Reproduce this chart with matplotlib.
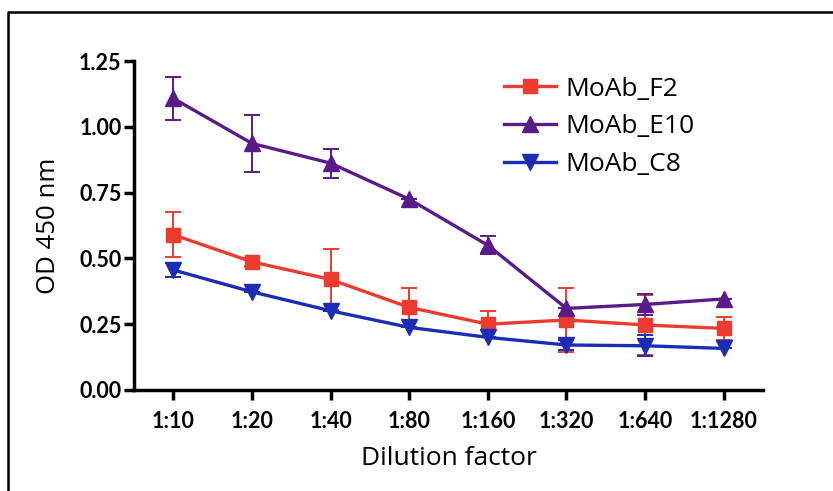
import matplotlib.pyplot as plt
from matplotlib.lines import Line2D

dilutions = ['1:10', '1:20', '1:40', '1:80', '1:160', '1:320', '1:640', '1:1280']

f2 = [0.59, 0.487, 0.42, 0.314, 0.25, 0.266, 0.247, 0.234]
f2_err = [0.085, 0.015, 0.115, 0.075, 0.05, 0.12, 0.115, 0.045]

e10 = [1.108, 0.937, 0.862, 0.725, 0.55, 0.31, 0.325, 0.346]
e10_err = [0.083, 0.107, 0.055, 0.0, 0.035, 0.0, 0.04, 0.0]

c8 = [0.456, 0.373, 0.301, 0.238, 0.2, 0.171, 0.168, 0.158]
c8_err = [0.025, 0.0, 0.0, 0.0, 0.0, 0.02, 0.04, 0.0]

red = '#ee3b30'
purple = '#5a1a8a'
blue = '#1c2cb4'

plt.rcParams['font.family'] = ['Lato', 'DejaVu Sans']

fig = plt.figure(figsize=(8.33, 4.91), dpi=100)
ax = fig.add_axes([134/833, 1-390/491, (763-134)/833, (390-61)/491])

x = list(range(len(dilutions)))

ax.errorbar(x, f2, yerr=f2_err, color=red, marker='s', markersize=10, lw=2.4,
            capsize=6, elinewidth=1.4, capthick=1.4, label='MoAb_F2', zorder=3)
ax.errorbar(x, e10, yerr=e10_err, color=purple, marker='^', markersize=11, lw=2.4,
            capsize=6, elinewidth=1.4, capthick=1.4, label='MoAb_E10', zorder=3)
ax.errorbar(x, c8, yerr=c8_err, color=blue, marker='v', markersize=11, lw=2.4,
            capsize=6, elinewidth=1.4, capthick=1.4, label='MoAb_C8', zorder=3)

ax.set_xlim(-0.5, 7.5)
ax.set_ylim(0, 1.25)
ax.set_xticks(x)
ax.set_xticklabels(dilutions, fontsize=15.5, fontweight='bold')
ax.set_yticks([0, 0.25, 0.5, 0.75, 1.0, 1.25])
ax.set_yticklabels(['0.00', '0.25', '0.50', '0.75', '1.00', '1.25'],
                   fontsize=15.5, fontweight='bold')
ax.tick_params(axis='both', width=2.5, length=7, pad=2)
ax.tick_params(axis='x', pad=8)

for side in ['top', 'right']:
    ax.spines[side].set_visible(False)
for side in ['left', 'bottom']:
    ax.spines[side].set_linewidth(2.5)

ax.set_ylabel('OD 450 nm', fontsize=18.5, family=['Open Sans', 'DejaVu Sans'], labelpad=13)
ax.set_xlabel('Dilution factor', fontsize=19, family=['Open Sans', 'DejaVu Sans'], labelpad=10)

handles = [Line2D([], [], color=red, marker='s', markersize=10, lw=2.4),
           Line2D([], [], color=purple, marker='^', markersize=11, lw=2.4),
           Line2D([], [], color=blue, marker='v', markersize=11, lw=2.4)]
ax.legend(handles, ['MoAb_F2', 'MoAb_E10', 'MoAb_C8'], frameon=False,
          loc='upper left', bbox_to_anchor=(0.55, 1.025),
          prop={'family': ['Open Sans', 'DejaVu Sans'], 'size': 19},
          handlelength=2.0, handletextpad=0.35, labelspacing=0.48)

# outer frame of the original figure
fig.add_artist(Line2D([8/833, 8/833, 1.0], [0.0, 1-12/491, 1-12/491],
                      transform=fig.transFigure, color='black', lw=1.8))

fig.savefig('out.png', dpi=100)
